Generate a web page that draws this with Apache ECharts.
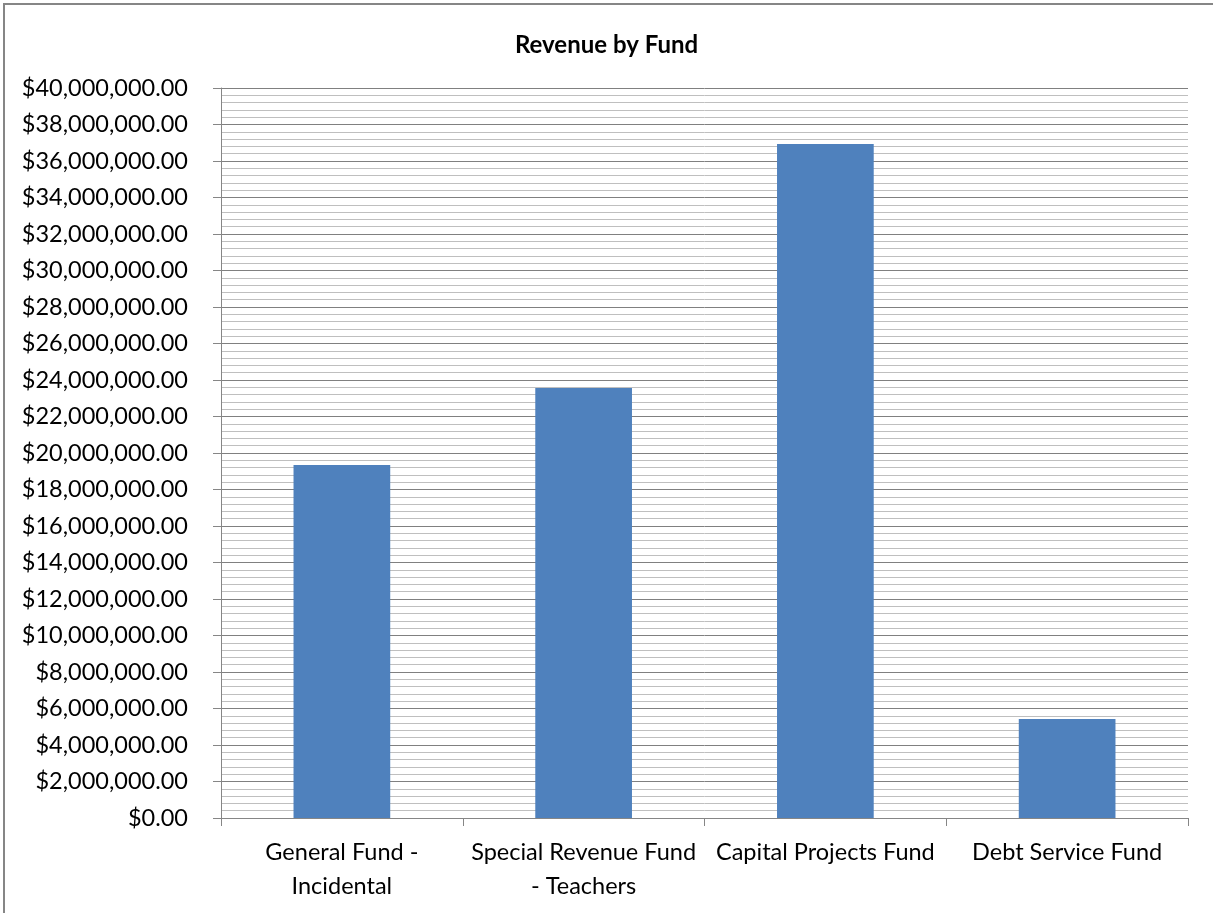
<!DOCTYPE html>
<html>
<head>
<meta charset="utf-8">
<title>Revenue by Fund</title>
<script src="https://cdn.jsdelivr.net/npm/echarts@6/dist/echarts.min.js"></script>
<style>
html,body{margin:0;padding:0;background:#fff;}
#chart{width:1213px;height:913px;}
</style>
</head>
<body>
<div id="chart"></div>
<script>
// data
var funds=['General Fund -\nIncidental','Special Revenue Fund\n- Teachers','Capital Projects Fund','Debt Service Fund'];
var revenue=[19340000,23560000,36930000,5420000];
var yMin=0,yMax=40000000,yStep=2000000;

var myChart=echarts.init(document.getElementById('chart'));

function money(v){
	return '$'+v.toLocaleString('en-US',{minimumFractionDigits:2,maximumFractionDigits:2});
}

var option={
	animation:false,
	textStyle:{fontFamily:'Lato'},
	title:{
		text:'Revenue by Fund',
		left:'center',
		top:28,
		textStyle:{fontFamily:'Lato',fontSize:24,fontWeight:'bold',color:'#000'}
	},
	graphic:[{
		type:'rect',
		shape:{x:4,y:4,width:1400,height:1100},
		style:{fill:null,stroke:'#868686',lineWidth:2},
		silent:true
	}],
	grid:{left:221,right:25,top:88,bottom:95,containLabel:false},
	xAxis:{
		type:'category',
		data:funds,
		axisLine:{lineStyle:{color:'#868686',width:1}},
		axisTick:{show:true,length:8,interval:0,lineStyle:{color:'#868686'}},
		axisLabel:{interval:0,color:'#000',fontSize:23.5,lineHeight:34,margin:17,fontFamily:'Lato'}
	},
	yAxis:{
		type:'value',
		min:yMin,
		max:yMax,
		interval:yStep,
		axisLine:{show:true,lineStyle:{color:'#868686',width:1}},
		axisTick:{show:true,length:8,lineStyle:{color:'#868686'}},
		axisLabel:{color:'#000',fontSize:23.5,margin:33,fontFamily:'Lato',formatter:money},
		splitLine:{show:true,lineStyle:{color:'#808080',width:1}},
		minorTick:{show:false,splitNumber:5},
		minorSplitLine:{show:true,lineStyle:{color:'#bfbfbf',width:1}}
	},
	series:[{
		type:'bar',
		data:revenue,
		barWidth:'40%',
		itemStyle:{color:'#4f81bd'}
	}]
};
myChart.setOption(option);
</script>
</body>
</html>
